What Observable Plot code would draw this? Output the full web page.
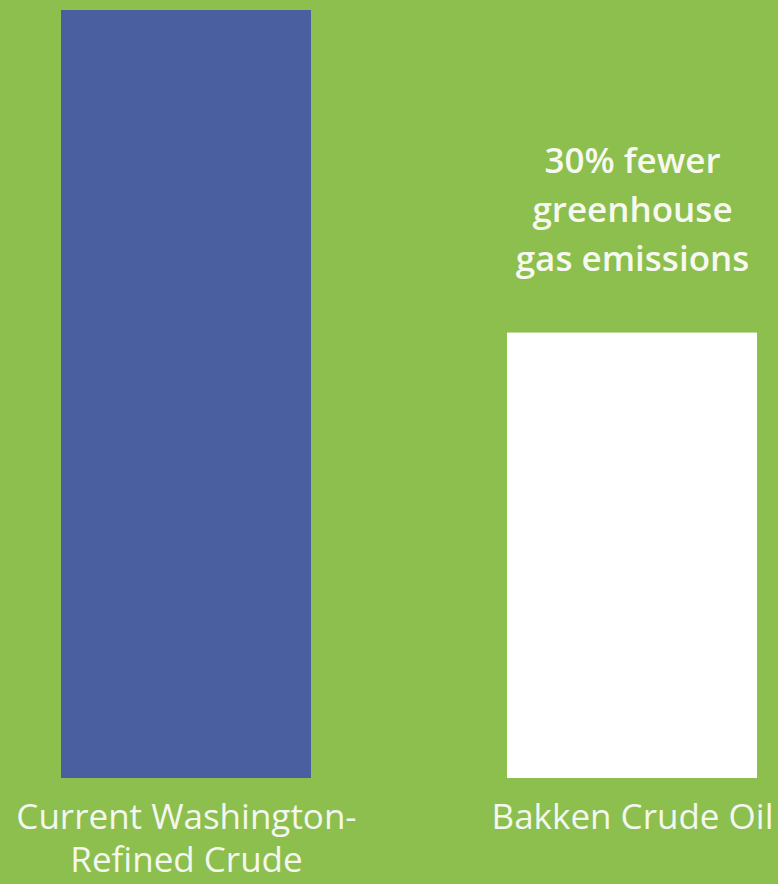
<!DOCTYPE html>
<html><head><meta charset="utf-8">
<script src="https://cdn.jsdelivr.net/npm/d3@7"></script>
<script src="https://cdn.jsdelivr.net/npm/@observablehq/plot@0.6"></script>
<style>
html,body{margin:0;padding:0;background:#8cbf4e;}
</style></head>
<body><div id="chart"></div>
<script>
const categories = ["Current Washington-\nRefined Crude", "Bakken Crude Oil"];
const values = [100, 58];
const colors = ["#4a5fa0", "#ffffff"];
const annotation = "30% fewer\ngreenhouse\ngas emissions";
const annotationY = 74.5;

const data = categories.map((c, i) => ({category: c, value: values[i], color: colors[i]}));

const chart = Plot.plot({
  width: 778,
  height: 884,
  marginTop: 0, marginBottom: 0, marginLeft: 0, marginRight: 0,
  style: {background: "#8cbf4e", fontFamily: "'Open Sans', sans-serif"},
  x: {domain: categories, range: [60, 757], paddingInner: 0.44, paddingOuter: 0, axis: null},
  y: {domain: [0, 100], range: [778, 10], axis: null},
  marks: [
    Plot.barY(data, {x: "category", y: "value", fill: "color"}),
    Plot.text(data, {x: "category", y: 0, text: "category", dy: 19, textAnchor: "middle", lineAnchor: "top", fill: "#f4f7ee", fontSize: 35, lineHeight: 1.25}),
    Plot.text([annotation], {x: () => categories[1], y: () => annotationY, text: d => d, fill: "#f7f9f0", fontSize: 35, fontWeight: 600, lineHeight: 1.4, lineAnchor: "middle"})
  ]
});
document.getElementById("chart").appendChild(chart);
</script></body></html>
